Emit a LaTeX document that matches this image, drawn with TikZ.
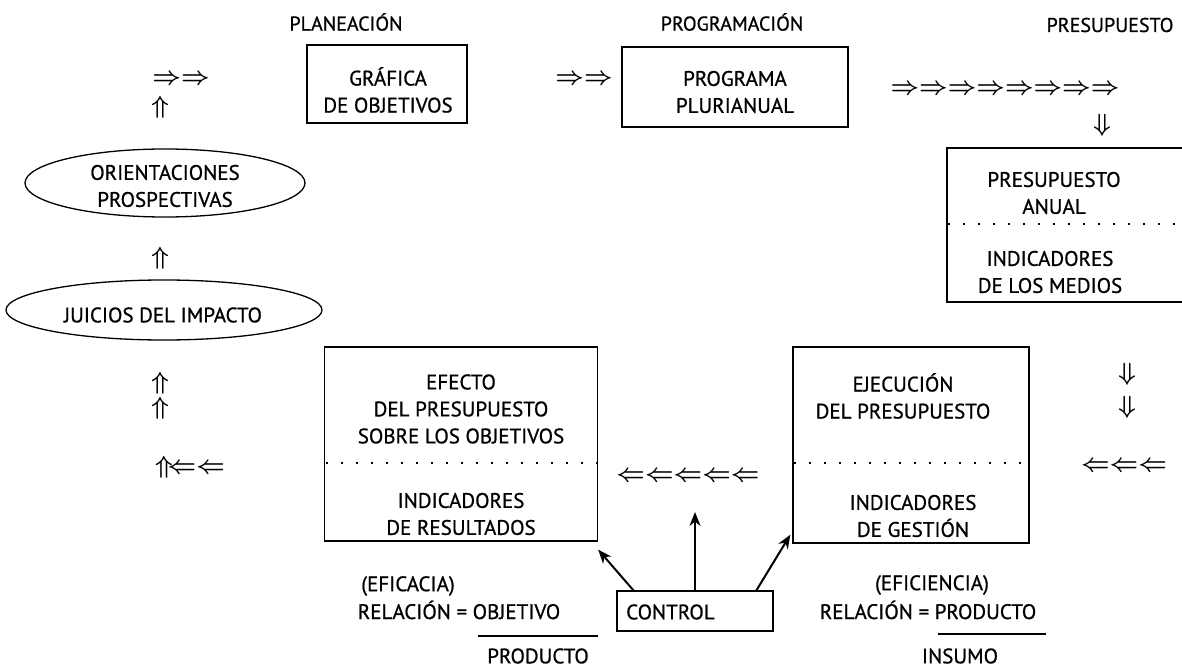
\documentclass[tikz,border=0pt]{standalone}
\usepackage{fontspec}
\setmainfont{PT Sans}[FakeBold=0.8]
\usetikzlibrary{shapes.geometric,arrows.meta}
\begin{document}
\begin{tikzpicture}[x=1pt,y=-1pt,
  txt/.style={font=\fontsize{21}{27}\selectfont, align=center, inner sep=0pt},
  ttl/.style={font=\fontsize{20}{20}\selectfont, inner sep=0pt},
  arr/.style={font=\fontsize{25}{25}\selectfont\boldmath, inner sep=0pt},
  box/.style={draw, line width=1.3pt},
  dots/.style={line width=2.2pt, dash pattern=on 2.2pt off 12.8pt},
  ell/.style={draw, ellipse, line width=1.3pt, inner sep=0pt},
  ctl/.style={line width=2pt, -{Stealth[length=14pt,width=11pt]}}]
\useasboundingbox (0,0) rectangle (1182,668);
% titles
\node[ttl] (tPlan) at (346,22) {PLANEACIÓN};
\node[ttl] (tProg) at (732,22) {PROGRAMACIÓN};
\node[ttl] (tPres) at (1110,25) {PRESUPUESTO};
% top boxes
\node[box, minimum width=160pt, minimum height=78pt] (graf) at (387,84) {};
\node[txt] at (388,90) {GRÁFICA\\DE OBJETIVOS};
\node[box, minimum width=226pt, minimum height=80pt] (prog) at (735,87) {};
\node[txt] at (735,92) {PROGRAMA\\PLURIANUAL};
% presupuesto box
\draw[box] (1182,148) -- (947,148) -- (947,302) -- (1182,302);
\draw[dots] (948,224) -- (1182,224);
\node[txt] (presA) at (1054,193) {PRESUPUESTO\\ANUAL};
\node[txt] (presI) at (1050,272) {INDICADORES\\DE LOS MEDIOS};
% ellipses
\node[ell, minimum width=280pt, minimum height=68pt] (orient) at (165,183) {};
\node[txt] at (165,186) {ORIENTACIONES\\PROSPECTIVAS};
\node[ell, minimum width=316pt, minimum height=60pt] (juic) at (164,310) {};
\node[txt] at (163,315) {JUICIOS DEL IMPACTO};
% bottom boxes
\node[box, minimum width=273pt, minimum height=194pt] (efec) at (461,444) {};
\draw[dots] (326,463) -- (597,463);
\node[txt] (efT) at (461,409) {EFECTO\\DEL PRESUPUESTO\\SOBRE LOS OBJETIVOS};
\node[txt] (efI) at (461,514) {INDICADORES\\DE RESULTADOS};
\node[box, minimum width=236pt, minimum height=196pt] (ejec) at (911,445) {};
\draw[dots] (794,463) -- (1028,463);
\node[txt] (ejT) at (903,396) {EJECUCIÓN\\DEL PRESUPUESTO};
\node[txt] (ejI) at (913,516) {INDICADORES\\DE GESTIÓN};
% control
\node[box, minimum width=156pt, minimum height=40pt] (ctrl) at (695,611) {};
\node[txt, anchor=west] at (626,612) {CONTROL};
\coordinate (c1) at (634,591);
\coordinate (c2) at (695,591);
\coordinate (c3) at (756,591);
\draw[ctl] (c1) -- ([yshift=-8pt]efec.south east);
\draw[ctl] (c2) -- (695,512);
\draw[ctl] (c3) -- ([xshift=-2pt,yshift=9pt]ejec.south west);
% relations
\node[txt] (efic) at (408,586) {(EFICACIA)};
\node[txt] (rel1) at (459,610) {RELACIÓN = OBJETIVO};
\draw[line width=1.3pt] (478,636) -- (598,636);
\node[txt] (prod1) at (538,656) {PRODUCTO};
\node[txt] (efi2) at (932,585) {(EFICIENCIA)};
\node[txt] (rel2) at (928,610) {RELACIÓN = PRODUCTO};
\draw[line width=1.3pt] (938,634) -- (1046,634);
\node[txt] (ins) at (960,656) {INSUMO};
% double arrows
\node[arr] (a1) at (181,80) {$\Rightarrow\Rightarrow$};
\node[arr] (a2) at (160,107) {$\Uparrow$};
\node[arr] (a3) at (584,80) {$\Rightarrow\Rightarrow$};
\node[arr] (a4) at (1005,90) {$\Rightarrow\Rightarrow\Rightarrow\Rightarrow\Rightarrow\Rightarrow\Rightarrow\Rightarrow$};
\node[arr] (a5) at (1102,125) {$\Downarrow$};
\node[arr] (a6) at (160,258) {$\Uparrow$};
\node[arr] (a7) at (160,383) {$\Uparrow$};
\node[arr] (a8) at (160,408) {$\Uparrow$};
\node[arr] (a9) at (190,467) {$\Uparrow\!\Leftarrow\Leftarrow$};
\node[arr] (a10) at (1127,374) {$\Downarrow$};
\node[arr] (a11) at (1127,407) {$\Downarrow$};
\node[arr] (a12) at (688,477) {$\Leftarrow\Leftarrow\Leftarrow\Leftarrow\Leftarrow$};
\node[arr] (a13) at (1124,467) {$\Leftarrow\Leftarrow\Leftarrow$};
\end{tikzpicture}
\end{document}
